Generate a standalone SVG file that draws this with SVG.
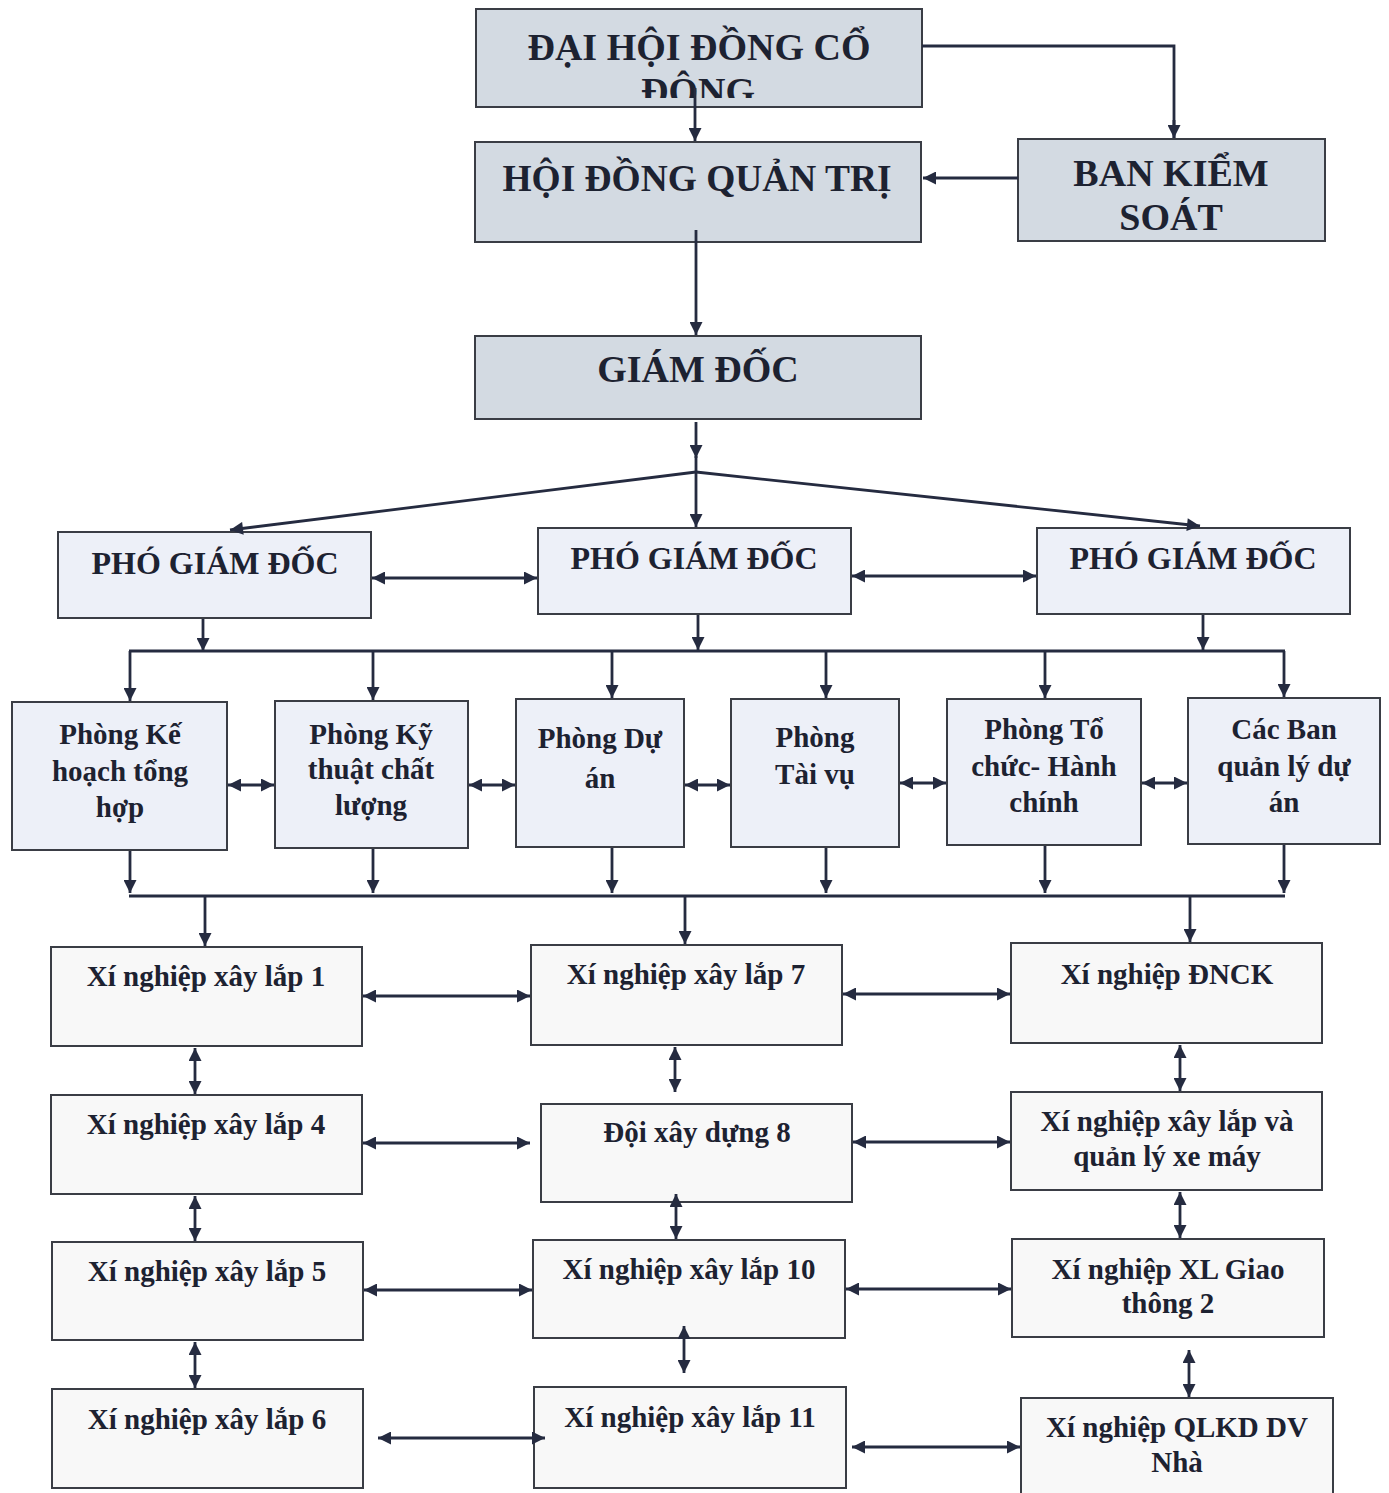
<svg xmlns="http://www.w3.org/2000/svg" width="1389" height="1493" viewBox="0 0 1389 1493">
<style>
  .top { fill:#d3dae2; stroke:#3a3d45; stroke-width:2; }
  .mid { fill:#edf0f8; stroke:#3a3d45; stroke-width:2; }
  .low { fill:#f8f8f8; stroke:#3a3d45; stroke-width:2; }
  text { font-family:"Liberation Serif","Times New Roman",serif; font-weight:bold; fill:#1d2231; text-anchor:middle; }
  .f1 { font-size:38px; }
  .f2 { font-size:32px; }
  .f3 { font-size:29px; }
  .c { fill:none; stroke:#252b40; stroke-width:2.8; }
  .e { marker-end:url(#ah); }
  .b { marker-start:url(#ah); marker-end:url(#ah); }
</style>
<defs>
  <marker id="ah" viewBox="0 0 10 10" refX="10" refY="5" markerWidth="18" markerHeight="13" markerUnits="userSpaceOnUse" orient="auto-start-reverse">
    <path d="M0,0 L10,5 L0,10 z" fill="#252b40"/>
  </marker>
  <clipPath id="clipDH"><rect x="476" y="9" width="446" height="89"/></clipPath>
</defs>
<rect width="1389" height="1493" fill="#ffffff"/>

<g id="dai-hoi">
  <rect class="top" x="476" y="9" width="446" height="98"/>
  <text class="f1" x="699" y="60">ĐẠI HỘI ĐỒNG CỔ</text>
  <text class="f1" x="698" y="104" clip-path="url(#clipDH)">ĐÔNG</text>
</g>
<g id="hdqt">
  <rect class="top" x="475" y="142" width="446" height="100"/>
  <text class="f1" x="697" y="191" textLength="389" lengthAdjust="spacingAndGlyphs">HỘI ĐỒNG QUẢN TRỊ</text>
</g>
<g id="bks">
  <rect class="top" x="1018" y="139" width="307" height="102"/>
  <text class="f1" x="1171" y="186">BAN KIỂM</text>
  <text class="f1" x="1171" y="230">SOÁT</text>
</g>
<g id="giam-doc">
  <rect class="top" x="475" y="336" width="446" height="83"/>
  <text class="f1" x="698" y="382">GIÁM ĐỐC</text>
</g>

<g id="pgd1"><rect class="mid" x="58" y="532" width="313" height="86"/><text class="f2" x="215" y="574">PHÓ GIÁM ĐỐC</text></g>
<g id="pgd2"><rect class="mid" x="538" y="528" width="313" height="86"/><text class="f2" x="694" y="569">PHÓ GIÁM ĐỐC</text></g>
<g id="pgd3"><rect class="mid" x="1037" y="528" width="313" height="86"/><text class="f2" x="1193" y="569">PHÓ GIÁM ĐỐC</text></g>

<g id="p-kehoach"><rect class="mid" x="12" y="702" width="215" height="148"/>
  <text class="f3" x="120" y="744">Phòng Kế</text><text class="f3" x="120" y="781">hoạch tổng</text><text class="f3" x="120" y="817">hợp</text></g>
<g id="p-kythuat"><rect class="mid" x="275" y="701" width="193" height="147"/>
  <text class="f3" x="371" y="744">Phòng Kỹ</text><text class="f3" x="371" y="779">thuật chất</text><text class="f3" x="371" y="815">lượng</text></g>
<g id="p-duan"><rect class="mid" x="516" y="699" width="168" height="148"/>
  <text class="f3" x="600" y="748">Phòng Dự</text><text class="f3" x="600" y="788">án</text></g>
<g id="p-taivu"><rect class="mid" x="731" y="699" width="168" height="148"/>
  <text class="f3" x="815" y="747">Phòng</text><text class="f3" x="815" y="784">Tài vụ</text></g>
<g id="p-tochuc"><rect class="mid" x="947" y="699" width="194" height="146"/>
  <text class="f3" x="1044" y="739">Phòng Tổ</text><text class="f3" x="1044" y="776">chức- Hành</text><text class="f3" x="1044" y="812">chính</text></g>
<g id="p-banql"><rect class="mid" x="1188" y="698" width="192" height="146"/>
  <text class="f3" x="1284" y="739">Các Ban</text><text class="f3" x="1284" y="776">quản lý dự</text><text class="f3" x="1284" y="812">án</text></g>

<g id="xn1"><rect class="low" x="51" y="947" width="311" height="99"/><text class="f3" x="206" y="986">Xí nghiệp xây lắp 1</text></g>
<g id="xn4"><rect class="low" x="51" y="1095" width="311" height="99"/><text class="f3" x="206" y="1134">Xí nghiệp xây lắp 4</text></g>
<g id="xn5"><rect class="low" x="52" y="1242" width="311" height="98"/><text class="f3" x="207" y="1281">Xí nghiệp xây lắp 5</text></g>
<g id="xn6"><rect class="low" x="52" y="1389" width="311" height="99"/><text class="f3" x="207" y="1429">Xí nghiệp xây lắp 6</text></g>

<g id="xn7"><rect class="low" x="531" y="945" width="311" height="100"/><text class="f3" x="686" y="984">Xí nghiệp xây lắp 7</text></g>
<g id="doi8"><rect class="low" x="541" y="1104" width="311" height="98"/><text class="f3" x="697" y="1142">Đội xây dựng 8</text></g>
<g id="xn10"><rect class="low" x="533" y="1240" width="312" height="98"/><text class="f3" x="689" y="1279">Xí nghiệp xây lắp 10</text></g>
<g id="xn11"><rect class="low" x="534" y="1387" width="312" height="101"/><text class="f3" x="690" y="1427">Xí nghiệp xây lắp 11</text></g>

<g id="xn-dnck"><rect class="low" x="1011" y="943" width="311" height="100"/><text class="f3" x="1167" y="984">Xí nghiệp ĐNCK</text></g>
<g id="xn-xemay"><rect class="low" x="1011" y="1092" width="311" height="98"/>
  <text class="f3" x="1167" y="1131">Xí nghiệp xây lắp và</text><text class="f3" x="1167" y="1166">quản lý xe máy</text></g>
<g id="xn-gt2"><rect class="low" x="1012" y="1239" width="312" height="98"/>
  <text class="f3" x="1168" y="1279">Xí nghiệp XL Giao</text><text class="f3" x="1168" y="1313">thông 2</text></g>
<g id="xn-qlkd"><rect class="low" x="1021" y="1398" width="312" height="100"/>
  <text class="f3" x="1177" y="1437">Xí nghiệp QLKD DV</text><text class="f3" x="1177" y="1472">Nhà</text></g>

<g id="connectors">
  <path class="c" d="M922,46 H1174 V138"/>
  <path class="c e" d="M1174,120 V138"/>
  <path class="c e" d="M1018,178 H923"/>
  <path class="c e" d="M695,88 V141"/>
  <path class="c e" d="M696,230 V335"/>
  <path class="c e" d="M696,422 V458"/>
  <path class="c e" d="M696,456 V527"/>
  <path class="c e" d="M696,472 L230,530"/>
  <path class="c e" d="M696,472 L1200,526"/>
  <path class="c b" d="M372,578 H537"/>
  <path class="c b" d="M852,576 H1036"/>
  <path class="c e" d="M203,619 V651"/>
  <path class="c e" d="M698,615 V650"/>
  <path class="c e" d="M1203,615 V650"/>
  <path class="c" d="M129,651 H1285"/>
  <path class="c e" d="M130,651 V701"/>
  <path class="c e" d="M373,651 V700"/>
  <path class="c e" d="M612,651 V698"/>
  <path class="c e" d="M826,651 V698"/>
  <path class="c e" d="M1045,651 V698"/>
  <path class="c e" d="M1284,651 V697"/>
  <path class="c b" d="M228,785 H274"/>
  <path class="c b" d="M469,785 H515"/>
  <path class="c b" d="M685,785 H730"/>
  <path class="c b" d="M900,783 H946"/>
  <path class="c b" d="M1142,783 H1187"/>
  <path class="c e" d="M130,851 V893"/>
  <path class="c e" d="M373,849 V893"/>
  <path class="c e" d="M612,848 V893"/>
  <path class="c e" d="M826,848 V893"/>
  <path class="c e" d="M1045,846 V893"/>
  <path class="c e" d="M1284,845 V893"/>
  <path class="c" d="M129,896 H1285"/>
  <path class="c e" d="M205,896 V946"/>
  <path class="c e" d="M685,896 V944"/>
  <path class="c e" d="M1190,896 V942"/>
  <path class="c b" d="M363,996 H530"/>
  <path class="c b" d="M843,994 H1010"/>
  <path class="c b" d="M363,1143 H530"/>
  <path class="c b" d="M853,1142 H1010"/>
  <path class="c b" d="M364,1290 H532"/>
  <path class="c b" d="M846,1289 H1011"/>
  <path class="c b" d="M378,1438 H545"/>
  <path class="c b" d="M852,1447 H1020"/>
  <path class="c b" d="M195,1048 V1094"/>
  <path class="c b" d="M195,1196 V1241"/>
  <path class="c b" d="M195,1342 V1388"/>
  <path class="c b" d="M675,1047 V1092"/>
  <path class="c b" d="M676,1194 V1239"/>
  <path class="c b" d="M684,1326 V1373"/>
  <path class="c b" d="M1180,1045 V1091"/>
  <path class="c b" d="M1180,1192 V1238"/>
  <path class="c b" d="M1189,1350 V1397"/>
</g>
</svg>
